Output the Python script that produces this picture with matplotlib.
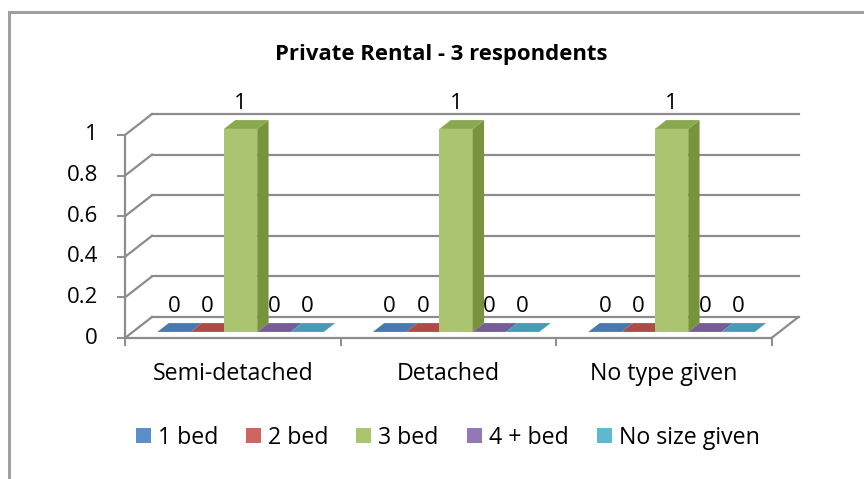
import matplotlib.pyplot as plt
from matplotlib.patches import Polygon, Patch

categories = ["Semi-detached", "Detached", "No type given"]
series = ["1 bed", "2 bed", "3 bed", "4 + bed", "No size given"]
values = {
    "1 bed": [0, 0, 0],
    "2 bed": [0, 0, 0],
    "3 bed": [1, 1, 1],
    "4 + bed": [0, 0, 0],
    "No size given": [0, 0, 0],
}
yticks = [0, 0.2, 0.4, 0.6, 0.8, 1]
ytick_labels = ["0", "0.2", "0.4", "0.6", "0.8", "1"]
title = "Private Rental - 3 respondents"

# office 2007 colours: front, top, side
colors = {
    "1 bed": ("#4F81BD", "#4A78B0", "#3A6494"),
    "2 bed": ("#C0504D", "#B04A47", "#953B39"),
    "3 bed": ("#ABC46F", "#8AA84F", "#77933C"),
    "4 + bed": ("#8064A2", "#765D96", "#62497F"),
    "No size given": ("#4BACC6", "#449DB5", "#31859C"),
}
legend_colors = ["#5B8FC9", "#CF6560", "#A9C56D", "#9478B5", "#5DB8D0"]

plt.rcParams['font.family'] = ['Open Sans', 'DejaVu Sans']

fig = plt.figure(figsize=(8.64, 4.79), dpi=100)
renderer = fig.canvas.get_renderer()


def fit_size(text, target_px, weight="normal"):
    # font size that makes the text about target_px wide (Calibri is not installed)
    t = fig.text(0, 0, text, fontsize=10, fontweight=weight)
    wpx = t.get_window_extent(renderer).width
    t.remove()
    return 10 * target_px / wpx


fs_cat = fit_size("Semi-detached", 161)
fs_num = fs_cat * 0.96
fs_title = fit_size(title, 333, "bold")
fs_leg = fit_size("No size given", 141)

ax = fig.add_axes([0, 0, 1, 1])
# front plane: x=0 at px 125, 215.5 px per category; y=0 at px 338 (from top), 203 px per unit
X0, Y0 = 125.0, 338.0
SX, SY = 215.5, 203.0
ax.set_xlim(-X0 / SX, (864 - X0) / SX)
ax.set_ylim(-(479 - Y0) / SY, Y0 / SY)
ax.axis("off")

PX = 1 / SX
PY = 1 / SY
DX, DY = 27 * PX, 21 * PY   # depth of the floor
ncat = len(categories)
grid = "#8C8C8C"


def P(x, y, d):
    return (x + d * DX, y + d * DY)


# chart border (cropped on the right and bottom)
fig.add_artist(plt.Line2D([9 / 864, 9 / 864], [0, 1 - 12 / 479], color="#A0A0A0", lw=2.2))
fig.add_artist(plt.Line2D([9 / 864, 1], [1 - 12 / 479, 1 - 12 / 479], color="#A0A0A0", lw=2.2))

# walls and gridlines
for v, lab in zip(yticks, ytick_labels):
    ax.plot([DX, ncat + DX], [v + DY, v + DY], color=grid, lw=1.6, zorder=1)
    ax.plot([0, DX], [v, v + DY], color=grid, lw=1.6, zorder=1)
    ax.plot([-7 * PX, 0], [v, v], color=grid, lw=1.4, zorder=1)
    ax.text(-27 * PX, v, lab, ha="right", va="center", fontsize=fs_num)
ax.plot([0, 0], [0, max(yticks)], color=grid, lw=1.6, zorder=1)
ax.plot([0, ncat], [0, 0], color=grid, lw=1.6, zorder=1)
ax.plot([ncat, ncat + DX], [0, DY], color=grid, lw=1.6, zorder=1)
for i in range(ncat + 1):
    ax.plot([i, i], [0, -7 * PY], color=grid, lw=1.4, zorder=1)
for i, c in enumerate(categories):
    ax.text(i + 0.5, -42 * PY, c, ha="center", va="baseline", fontsize=fs_cat)

# bars
w = 33.3 * PX
d0, d1 = 0.29, 0.71
for i in range(ncat):
    for j, s in enumerate(series):
        h = values[s][i]
        x0 = i + 0.5 + (j - 2.5) * w
        x1 = x0 + w
        front, top, side = colors[s]
        if h > 0:
            ax.add_patch(Polygon([P(x0, 0, d0), P(x1, 0, d0), P(x1, h, d0), P(x0, h, d0)],
                                 closed=True, fc=front, ec="none", zorder=3))
            ax.add_patch(Polygon([P(x1, 0, d0), P(x1, 0, d1), P(x1, h, d1), P(x1, h, d0)],
                                 closed=True, fc=side, ec="none", zorder=3))
        ax.add_patch(Polygon([P(x0, h, d0), P(x1, h, d0), P(x1, h, d1), P(x0, h, d1)],
                             closed=True, fc=top, ec="none", zorder=3))
        lx, ly = P((x0 + x1) / 2, h, d0)
        ax.text(lx, ly + 20 * PY, str(h), ha="center", va="baseline", fontsize=fs_num, zorder=4)

fig.text(441.5 / 864, 1 - 60 / 479, title, ha="center", va="baseline",
         fontsize=fs_title, fontweight="bold")

em = fs_leg * 100 / 72   # legend font size in px
handles = [Patch(fc=c, ec="none") for c in legend_colors]
fig.legend(handles, series, loc="center", bbox_to_anchor=(447.5 / 864, 1 - 438 / 479),
           ncol=5, frameon=False, fontsize=fs_leg, handlelength=15 / em, handleheight=14 / em,
           handletextpad=7 / em, columnspacing=28 / em, borderpad=0, borderaxespad=0)

fig.savefig("out.png", dpi=100)
